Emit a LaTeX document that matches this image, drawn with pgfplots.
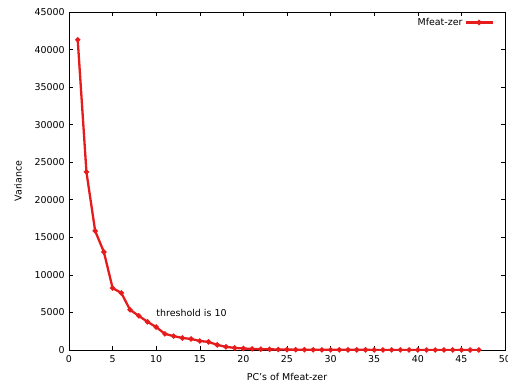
\documentclass[border=0pt]{standalone}
\usepackage{fontspec}
\setmainfont{DejaVu Sans}
\usepackage{pgfplots}
\pgfplotsset{compat=1.18}
\definecolor{gred}{RGB}{230,28,28}
\begin{document}
\fontsize{9.5}{11}\selectfont
\begin{tikzpicture}
\path[use as bounding box] (-69bp,-38bp) rectangle (439bp,350bp);
\begin{axis}[
  at={(0,0)}, anchor=south west,
  scale only axis, width=436bp, height=338bp,
  xmin=0, xmax=50, ymin=0, ymax=45000,
  xtick={0,5,...,50}, ytick={0,5000,...,45000},
  scaled y ticks=false,
  /pgf/number format/assume math mode=true,
  /pgf/number format/set thousands separator={},
  tick align=inside, tick pos=both,
  major tick length=4bp, minor tick num=0,
  axis line style={line width=0.8pt},
  every tick/.style={line width=0.6pt, black},
  tick label style={font=\fontsize{9.5}{11}\selectfont},
  xticklabel style={yshift=-2.5bp},
  yticklabel style={xshift=-1bp},
  xlabel={PC's of Mfeat-zer}, ylabel={Variance},
  xlabel style={at={(axis description cs:0.5,-0.08)}, anchor=center},
  ylabel style={at={(axis description cs:-0.117,0.5)}, anchor=center, rotate=0},
  legend style={draw=none, fill=none, at={(axis description cs:1,1)}, anchor=north east, xshift=-8bp, yshift=-2bp, font=\fontsize{9.5}{11}\selectfont},
  legend plot pos=right,
  legend cell align=right,
  legend image code/.code={\draw[mark repeat=2, mark phase=2, #1] plot coordinates {(0bp,0bp) (13.5bp,0bp) (27bp,0bp)};},
]
\addplot[color=gred, line width=2.3bp, mark=*, mark size=1.3bp, mark options={solid}] coordinates {
(1,41300) (2,23700) (3,15850) (4,13050) (5,8250) (6,7600) (7,5350) (8,4550) (9,3750) (10,3050)
(11,2150) (12,1850) (13,1600) (14,1470) (15,1200) (16,1080) (17,680) (18,420) (19,280) (20,200)
(21,150) (22,110) (23,90) (24,70) (25,55) (26,42) (27,36) (28,30) (29,26) (30,22)
(31,20) (32,18) (33,16) (34,14) (35,13) (36,12) (37,11) (38,10) (39,9) (40,8)
(41,7) (42,7) (43,6) (44,6) (45,5) (46,5) (47,4)
};
\addlegendentry{Mfeat-zer}
\node[anchor=west, inner sep=0pt] at (axis cs:10,4950) {threshold is 10};
\end{axis}
\end{tikzpicture}
\end{document}
